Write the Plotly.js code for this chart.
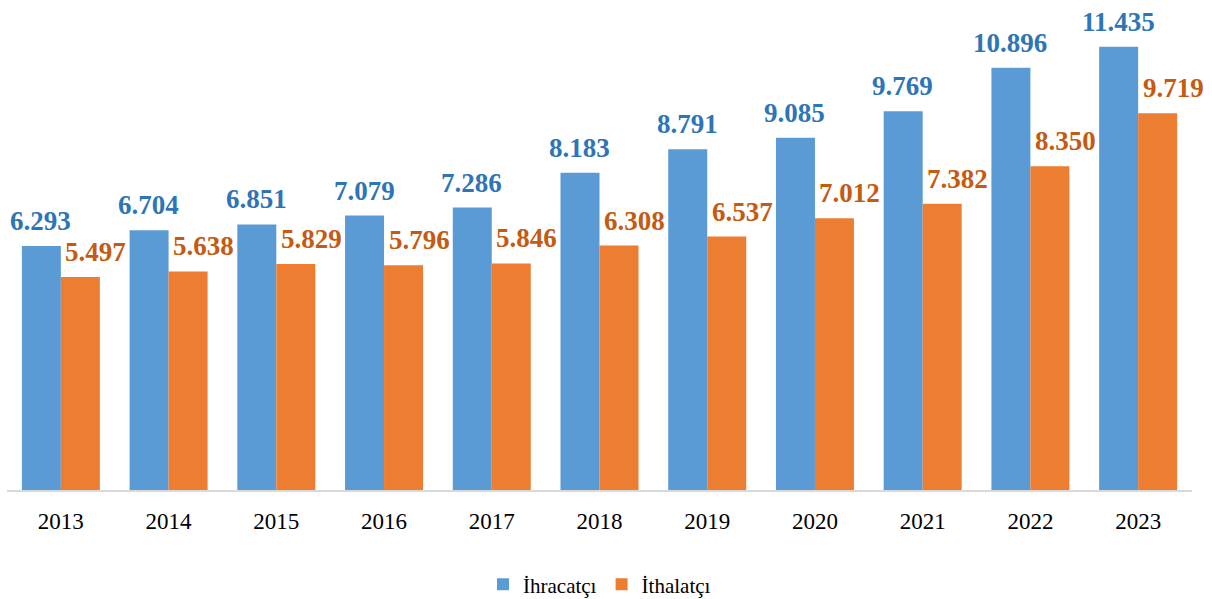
<!DOCTYPE html>
<html>
<head>
<meta charset="utf-8">
<script src="https://cdn.plot.ly/plotly-3.0.1.min.js"></script>
<style>html,body{margin:0;padding:0;background:#fff;}#chart{width:1212px;height:599px;}</style>
</head>
<body>
<div id="chart"></div>
<script>
const years = ['2013','2014','2015','2016','2017','2018','2019','2020','2021','2022','2023'];
const ihracatci = [6293, 6704, 6851, 7079, 7286, 8183, 8791, 9085, 9769, 10896, 11435];
const ithalatci = [5497, 5638, 5829, 5796, 5846, 6308, 6537, 7012, 7382, 8350, 9719];
const seriesNames = ['İhracatçı', 'İthalatçı'];

const blue = '#5B9BD5', orange = '#ED7D31';
const blueText = '#2E75B6', orangeText = '#C55A11';
const fmt = v => v.toLocaleString('de-DE');

const traces = [
  {type:'bar', name:seriesNames[0], x:years, y:ihracatci, marker:{color:blue}, hoverinfo:'skip'},
  {type:'bar', name:seriesNames[1], x:years, y:ithalatci, marker:{color:orange}, hoverinfo:'skip'}
];

const annotations = [];
years.forEach((yr, i) => {
  annotations.push({x:i, y:ihracatci[i], xref:'x', yref:'y', text:fmt(ihracatci[i]), showarrow:false,
    xanchor:'center', yanchor:'bottom', xshift:-20, yshift:8,
    font:{family:'Liberation Serif, Times New Roman, serif', size:27, color:blueText, weight:'bold'}});
  annotations.push({x:i, y:ithalatci[i], xref:'x', yref:'y', text:fmt(ithalatci[i]), showarrow:false,
    xanchor:'center', yanchor:'bottom', xshift:35, yshift:8,
    font:{family:'Liberation Serif, Times New Roman, serif', size:27, color:orangeText, weight:'bold'}});
});

const layout = {
  width:1212, height:599,
  margin:{l:7, r:20, t:2, b:109, autoexpand:false},
  paper_bgcolor:'#fff', plot_bgcolor:'#fff',
  barmode:'group', bargap:0.276, bargroupgap:0,
  showlegend:true,
  legend:{orientation:'h', x:0.5, xanchor:'center', y:-0.152, yanchor:'top',
    font:{family:'Liberation Serif, Times New Roman, serif', size:21, color:'#000'}},
  xaxis:{type:'category', range:[-0.5, years.length-0.5], showgrid:false, showline:true, linecolor:'#D9D9D9', linewidth:1.5,
    ticks:'', ticklabelstandoff:10, automargin:false,
    tickfont:{family:'Liberation Serif, Times New Roman, serif', size:23, color:'#000'}},
  yaxis:{range:[0,12590], visible:false, showgrid:false, zeroline:false, automargin:false},
  annotations:annotations,
  font:{family:'Liberation Serif, Times New Roman, serif'}
};

Plotly.newPlot('chart', traces, layout, {staticPlot:true, displayModeBar:false});
</script>
</body>
</html>
